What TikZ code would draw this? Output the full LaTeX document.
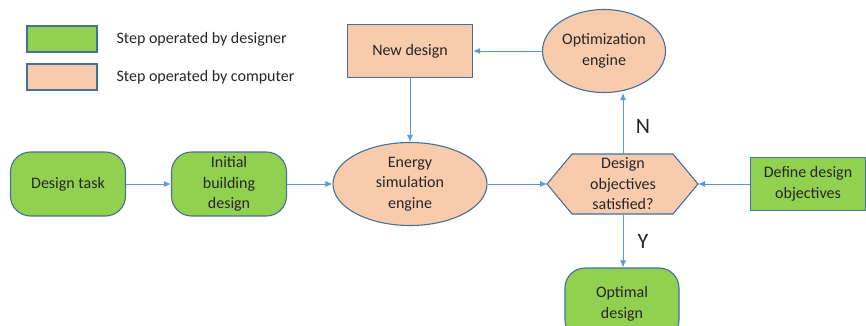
\documentclass[tikz,border=0pt]{standalone}
\usepackage{fontspec}
\setmainfont{Carlito}
\usetikzlibrary{shapes.geometric,arrows.meta,calc}
\definecolor{dgreen}{HTML}{92D050}
\definecolor{corange}{HTML}{F8CBAD}
\definecolor{bordc}{HTML}{41719C}
\definecolor{arrc}{HTML}{5B9BD5}
\begin{document}
\begin{tikzpicture}[x=1pt,y=-1pt,
  txt/.style={font=\fontsize{16}{20.5}\selectfont, text=black!85, align=center},
  greenbox/.style={txt, draw=bordc, line width=1.1pt, fill=dgreen, inner sep=0pt},
  orangebox/.style={txt, draw=bordc, line width=1.1pt, fill=corange, inner sep=0pt},
  stadium/.style={greenbox, rounded corners=20pt, minimum width=115pt, minimum height=64pt},
  oval/.style={orangebox, ellipse, inner sep=0pt},
  arr/.style={draw=arrc, line width=0.9pt, -{Latex[length=7pt,width=6pt]}},
  yn/.style={font=\fontsize{22}{26}\selectfont, text=black!85}
]
\useasboundingbox (0,0) rectangle (866,326);
\clip (0,0) rectangle (866,326);
% legend
\node[greenbox, minimum width=70pt, minimum height=26pt] (lg) at (62,39) {};
\node[orangebox, minimum width=70pt, minimum height=26pt] (lo) at (62,77) {};
\node[txt, anchor=west] (lgt) at (113,39) {Step operated by designer};
\node[txt, anchor=west] (lot) at (113,77) {Step operated by computer};
% nodes
\node[stadium] (task) at (68,184) {Design task};
\node[stadium] (init) at (229,184) {Initial\\building\\design};
\node[oval, minimum width=154pt, minimum height=83pt] (sim) at (410,184) {Energy\\simulation\\engine};
\node[orangebox, minimum width=125pt, minimum height=53pt] (new) at (410,51) {New design};
\node[oval, minimum width=123pt, minimum height=83pt] (opt) at (604,51) {Optimization\\engine};
\coordinate (hex) at (623,184);
\filldraw[fill=corange, draw=bordc, line width=1.1pt]
  (547,184) coordinate (hexW) -- (572,154) coordinate (hexNW) -- (673,154) coordinate (hexNE)
  -- (698,184) coordinate (hexE) -- (673,214) coordinate (hexSE) -- (572,214) coordinate (hexSW) -- cycle;
\coordinate (hexN) at (623,154);
\coordinate (hexS) at (623,214);
\node[txt] (hext) at (hex) {Design\\objectives\\satisfied?};
\node[greenbox, minimum width=115pt, minimum height=53pt] (def) at (808,184) {Define design\\objectives};
\node[stadium, minimum width=114pt, minimum height=72pt] (optd) at (622,304) {Optimal\\design};
% connectors
\draw[arr] (task) -- (init);
\draw[arr] (init) -- (sim);
\draw[arr] (new) -- (sim);
\draw[arr] (sim) -- (hexW);
\draw[arr] (def) -- (hexE);
\draw[arr] (opt.west) -- (new.east);
\draw[arr] (hexN) -- (hexN |- opt.south);
\draw[arr] (hexS) -- (hexS |- optd.north);
\node[yn] (N) at (643,126) {N};
\node[yn] (Y) at (643,241) {Y};
\end{tikzpicture}
\end{document}
